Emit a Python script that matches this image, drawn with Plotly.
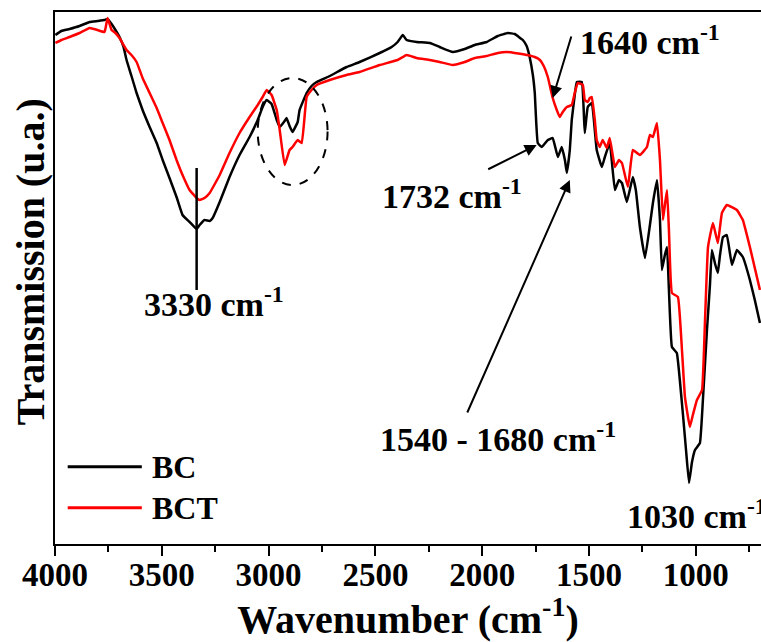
import plotly.graph_objects as go

# Wavenumbers (cm-1) and transmission (arbitrary units)
bc_wn = [3998, 3970, 3932, 3885, 3838, 3801, 3768, 3754, 3735, 3717, 3698, 3679, 3665, 3642, 3618, 3590,
         3557, 3524, 3496, 3464, 3431, 3403, 3370, 3337, 3323, 3300, 3276, 3262, 3229, 3183, 3136, 3089,
         3051, 3028, 3009, 2986, 2962, 2948, 2925, 2916, 2902, 2888, 2864, 2855, 2822, 2799, 2775, 2714,
         2635, 2574, 2480, 2424, 2396, 2372, 2354, 2307, 2245, 2199, 2138, 2082, 2035, 1979, 1927, 1880,
         1848, 1810, 1792, 1778, 1763, 1754, 1740, 1721, 1693, 1670, 1646, 1628, 1613, 1604, 1590, 1581,
         1567, 1557, 1534, 1520, 1506, 1487, 1464, 1440, 1426, 1403, 1379, 1360, 1346, 1323, 1295, 1281,
         1262, 1238, 1215, 1201, 1182, 1168, 1159, 1145, 1135, 1126, 1112, 1089, 1075, 1061, 1046, 1032,
         1018, 1004, 981, 967, 948, 934, 925, 911, 897, 887, 873, 855, 831, 808, 780, 747, 724, 700]
bc_t = [509, 513, 515, 518, 522, 523, 524, 525, 520, 514, 507, 497, 484, 468, 451, 434,
        417, 401, 384, 366, 347, 329, 322, 315, 319, 324, 323, 326, 342, 367, 389, 407,
        424, 437, 444, 440, 424, 417, 423, 426, 418, 412, 422, 434, 451, 458, 462, 468,
        477, 482, 491, 497, 502, 509, 504, 502, 501, 497, 492, 495, 499, 502, 508, 511,
        510, 504, 498, 487, 469, 451, 401, 397, 404, 406, 387, 397, 384, 371, 394, 424,
        449, 462, 462, 411, 437, 441, 394, 377, 387, 401, 354, 364, 361, 342, 367, 354,
        317, 286, 319, 341, 364, 324, 274, 289, 297, 254, 197, 191, 164, 131, 94, 61,
        82, 94, 101, 144, 214, 259, 294, 281, 271, 289, 307, 309, 279, 294, 287, 264, 244, 221]

bct_wn = [3998, 3970, 3932, 3885, 3838, 3801, 3768, 3754, 3735, 3717, 3698, 3679, 3665, 3642, 3618, 3590,
          3557, 3524, 3496, 3464, 3431, 3403, 3370, 3337, 3323, 3300, 3276, 3229, 3183, 3136, 3089, 3051,
          3028, 3009, 2986, 2962, 2948, 2925, 2902, 2888, 2864, 2845, 2822, 2799, 2775, 2714, 2635, 2574,
          2480, 2396, 2354, 2307, 2245, 2199, 2138, 2082, 2035, 1979, 1927, 1885, 1848, 1792, 1754, 1730,
          1712, 1693, 1670, 1651, 1637, 1623, 1604, 1581, 1567, 1553, 1529, 1520, 1506, 1496, 1487, 1473,
          1464, 1450, 1436, 1417, 1403, 1379, 1360, 1346, 1318, 1295, 1262, 1229, 1215, 1201, 1182, 1168,
          1154, 1145, 1135, 1126, 1112, 1084, 1065, 1051, 1028, 1014, 995, 971, 957, 943, 920, 897,
          878, 855, 808, 780, 747, 724, 700]
bct_t = [501, 504, 507, 511, 516, 514, 512, 526, 514, 511, 506, 499, 494, 489, 482, 466,
         451, 436, 421, 404, 384, 369, 354, 346, 344, 346, 351, 369, 391, 411, 427, 439,
         447, 454, 449, 434, 414, 379, 394, 397, 404, 401, 447, 454, 459, 464, 469, 472,
         479, 484, 489, 486, 484, 482, 479, 482, 486, 488, 491, 492, 491, 489, 487, 484,
         478, 467, 446, 434, 427, 432, 437, 439, 451, 461, 459, 444, 442, 446, 447, 424,
         404, 397, 404, 396, 406, 377, 384, 381, 357, 394, 389, 397, 409, 407, 421, 384,
         324, 339, 354, 314, 251, 247, 194, 147, 117, 129, 144, 154, 224, 297, 321, 301,
         331, 339, 334, 324, 297, 276, 254]

series_names = ["BC", "BCT"]
series_colors = ["#000000", "#ff0000"]
x_ticks = [4000, 3500, 3000, 2500, 2000, 1500, 1000]

FONT = "Liberation Serif"

fig = go.Figure()
fig.add_trace(go.Scatter(x=bc_wn, y=bc_t, mode="lines", name=series_names[0], showlegend=False,
                         line=dict(color=series_colors[0], width=2.5, shape="spline", smoothing=0.3)))
fig.add_trace(go.Scatter(x=bct_wn, y=bct_t, mode="lines", name=series_names[1], showlegend=False,
                         line=dict(color=series_colors[1], width=2.5, shape="spline", smoothing=0.3)))

sup = "<sup>-1</sup>"
afont = dict(family=FONT, size=34, color="black", weight="bold")
annotations = [
    dict(x=3258, y=242, text="3330 cm" + sup, showarrow=False, xanchor="center", yanchor="middle"),
    dict(x=1553, y=504, text="1640 cm" + sup, showarrow=False, xanchor="left", yanchor="middle"),
    dict(x=2480, y=350, text="1732 cm" + sup, showarrow=False, xanchor="left", yanchor="middle"),
    dict(x=2489, y=107, text="1540 - 1680 cm" + sup, showarrow=False, xanchor="left", yanchor="middle"),
    dict(x=1332, y=30, text="1030 cm" + sup, showarrow=False, xanchor="left", yanchor="middle"),
]
for a in annotations:
    a.update(xref="x", yref="y", font=afont)

arrows = [
    dict(x=1670, y=446, ax=1581, ay=509),
    dict(x=1745, y=399, ax=1979, ay=374),
    dict(x=1590, y=364, ax=2073, ay=130),
]
for a in arrows:
    annotations.append(dict(xref="x", yref="y", axref="x", ayref="y", text="", showarrow=True,
                            arrowhead=2, arrowsize=1.2, arrowwidth=2, arrowcolor="black", **a))

# y-axis title (rotated text, slightly above the axis centre as in the reference)
annotations.append(dict(xref="paper", yref="paper", x=-0.035, y=0.53, text="Transmission (u.a.)",
                        textangle=-90, showarrow=False, xanchor="center", yanchor="middle",
                        font=dict(family=FONT, size=40, color="black", weight="bold")))

shapes = [
    dict(type="line", xref="x", yref="y", x0=3337, x1=3337, y0=376, y1=254,
         line=dict(color="black", width=2.5)),
    dict(type="circle", xref="x", yref="y", x0=3051, x1=2724, y0=359, y1=466,
         line=dict(color="black", width=2, dash="dash")),
]

# legend drawn with long line samples, as in the reference
leg_y = [0.145, 0.068]
for name, color, ly in zip(series_names, series_colors, leg_y):
    shapes.append(dict(type="line", xref="paper", yref="paper", x0=0.018, x1=0.123, y0=ly, y1=ly,
                       line=dict(color=color, width=3)))
    annotations.append(dict(xref="paper", yref="paper", x=0.134, y=ly, text=name, showarrow=False,
                            xanchor="left", yanchor="middle",
                            font=dict(family=FONT, size=32, color="black", weight="bold")))

fig.update_layout(
    width=761, height=642,
    margin=dict(l=55, r=0, t=12, b=98, autoexpand=False),
    paper_bgcolor="white", plot_bgcolor="white",
    font=dict(family=FONT, size=33, color="black", weight="bold"),
    annotations=annotations,
    shapes=shapes,
    showlegend=False,
)
fig.update_xaxes(
    range=[4000, 695], tickvals=x_ticks, ticktext=[str(v) for v in x_ticks],
    ticks="outside", ticklen=10, tickwidth=2, tickcolor="black",
    ticklabelstandoff=-10,
    minor=dict(dtick=250, ticks="outside", ticklen=6, tickwidth=2, tickcolor="black"),
    showline=True, linewidth=2, linecolor="black", mirror=True,
    showgrid=False, zeroline=False, automargin=False,
    tickfont=dict(family=FONT, size=33, color="black", weight="bold"),
    title=dict(text="Wavenumber (cm<sup>-1</sup>)", standoff=0,
               font=dict(family=FONT, size=40, color="black", weight="bold")),
)
fig.update_yaxes(
    range=[0, 532], showticklabels=False, ticks="",
    showline=True, linewidth=2, linecolor="black", mirror=False,
    showgrid=False, zeroline=False, automargin=False,
)
fig.write_html("out.html", config={"displayModeBar": False},
               post_script="document.body.style.margin='0';document.body.style.overflow='hidden';")
